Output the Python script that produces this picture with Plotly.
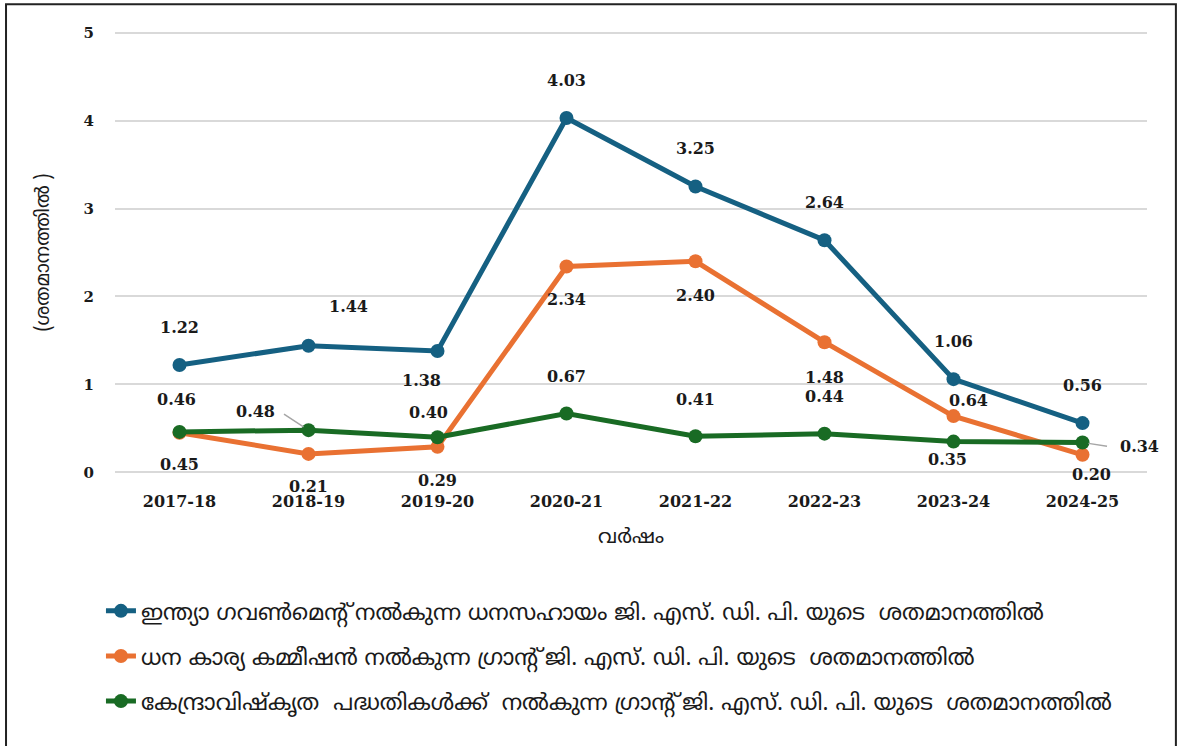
import plotly.graph_objects as go

years = ["2017-18", "2018-19", "2019-20", "2020-21", "2021-22", "2022-23", "2023-24", "2024-25"]
goi_support = [1.22, 1.44, 1.38, 4.03, 3.25, 2.64, 1.06, 0.56]
fc_grants = [0.45, 0.21, 0.29, 2.34, 2.40, 1.48, 0.64, 0.20]
css_grants = [0.46, 0.48, 0.40, 0.67, 0.41, 0.44, 0.35, 0.34]

names = [
    "ഇന്ത്യാ ഗവൺമെന്റ് നൽകുന്ന ധനസഹായം ജി. എസ്. ഡി. പി. യുടെ  ശതമാനത്തിൽ",
    "ധന കാര്യ കമ്മീഷൻ നൽകുന്ന ഗ്രാന്റ് ജി. എസ്. ഡി. പി. യുടെ  ശതമാനത്തിൽ",
    "കേന്ദ്രാവിഷ്കൃത  പദ്ധതികൾക്ക്  നൽകുന്ന ഗ്രാന്റ് ജി. എസ്. ഡി. പി. യുടെ  ശതമാനത്തിൽ",
]
colors = ["#156082", "#E97132", "#196B24"]

# label placement (pixel shifts) per point
blue_shift = [(0, 38), (40, 39), (-16, -29), (0, 37), (0, 38), (0, 38), (0, 38), (0, 38)]
orange_shift = [(0, -32), (0, -33), (0, -34), (0, -33), (0, -34), (0, -35), (15, 16), (9, -20)]
green_shift = [(-3, 32), (-53, 19), (-9, 25), (0, 37), (0, 37), (0, 37), (-6, -18), (57, -4)]

mal_font = "Noto Sans Malayalam, Noto Sans, DejaVu Sans, sans-serif"
num_font = dict(family="DejaVu Serif", size=16, color="#1a1a1a", weight="bold")

fig = go.Figure()
for i, vals in enumerate([goi_support, fc_grants, css_grants]):
    fig.add_trace(go.Scatter(
        x=years, y=vals, mode="lines+markers", name=names[i],
        line=dict(color=colors[i], width=5),
        marker=dict(color=colors[i], size=14),
        legendgroup=str(i),
    ))

annotations = []
for vals, shifts in [(goi_support, blue_shift), (fc_grants, orange_shift), (css_grants, green_shift)]:
    for x, v, (dx, dy) in zip(years, vals, shifts):
        annotations.append(dict(
            x=x, y=v, xref="x", yref="y", text="%.2f" % v, showarrow=False,
            xshift=dx, yshift=dy, font=num_font,
        ))

# leader lines for two labels
annotations.append(dict(x=years[1], y=css_grants[1], xref="x", yref="y", text="", showarrow=True,
                        ax=-26, ay=-17, arrowhead=0, arrowcolor="#a6a6a6", arrowwidth=1.5, standoff=6))
annotations.append(dict(x=years[7], y=css_grants[7], xref="x", yref="y", text="", showarrow=True,
                        ax=26, ay=4, arrowhead=0, arrowcolor="#a6a6a6", arrowwidth=1.5, standoff=6))

fig.update_layout(
    width=1180, height=746,
    margin=dict(l=115, r=33, t=30, b=271),
    paper_bgcolor="white", plot_bgcolor="white",
    showlegend=True,
    legend=dict(
        x=-0.0136, y=-0.258, xanchor="left", yanchor="top",
        font=dict(family=mal_font, size=22.4, color="#1a1a1a"),
        tracegroupgap=13, bgcolor="rgba(0,0,0,0)",
    ),
    annotations=annotations,
    shapes=[dict(type="rect", xref="paper", yref="paper",
                 x0=-0.1056, x1=1.028, y0=-0.65, y1=1.058,
                 line=dict(color="#222222", width=2))],
)
fig.update_xaxes(
    type="category", range=[-0.5, 7.5], showgrid=False, showline=False, zeroline=False,
    ticks="", tickfont=dict(family="DejaVu Serif", size=16, color="#1a1a1a", weight="bold"),
    ticklabelstandoff=15,
    title=dict(text="വർഷം", font=dict(family=mal_font, size=20, color="#1a1a1a"), standoff=18),
)
fig.update_yaxes(
    range=[-0.03, 5.03], tickvals=[0, 1, 2, 3, 4, 5], showgrid=True, gridcolor="#d9d9d9", gridwidth=2,
    zeroline=False, showline=False, ticks="",
    tickfont=dict(family="DejaVu Serif", size=15, color="#1a1a1a", weight="bold"),
    ticklabelstandoff=20,
    title=dict(text="(ശതമാനത്തിൽ )", font=dict(family=mal_font, size=19, color="#1a1a1a"), standoff=28),
)

fig.write_html("out.html", config={"displayModeBar": False},
               post_script="document.body.style.margin='0';")
